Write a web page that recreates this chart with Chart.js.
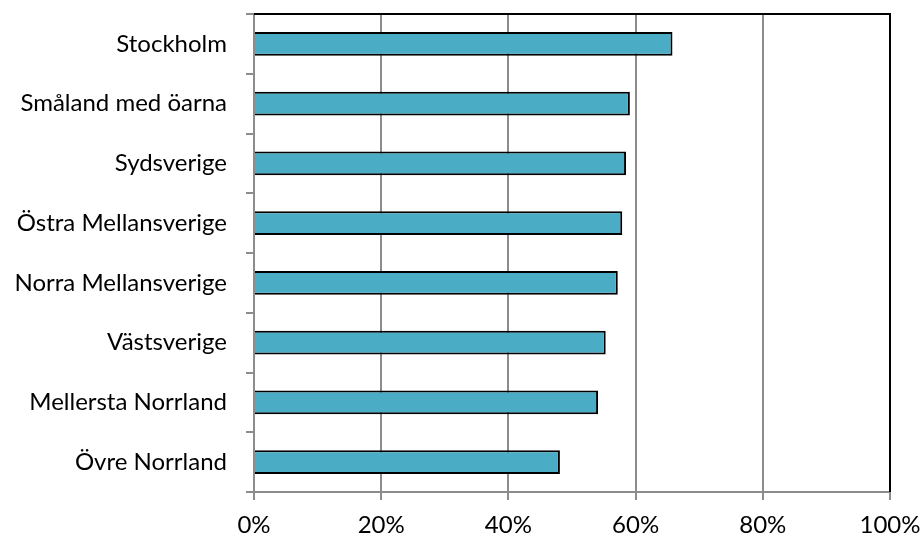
<!DOCTYPE html>
<html>
<head>
<meta charset="utf-8">
<script src="https://cdn.jsdelivr.net/npm/chart.js@4"></script>
<style>
  html, body { margin: 0; padding: 0; background: #fff; }
  #wrap { width: 922px; height: 538px; }
</style>
</head>
<body>
<div id="wrap"><canvas id="regionChart" width="922" height="538"></canvas></div>
<script>
// Data
const regions = [
  "Stockholm",
  "Småland med öarna",
  "Sydsverige",
  "Östra Mellansverige",
  "Norra Mellansverige",
  "Västsverige",
  "Mellersta Norrland",
  "Övre Norrland",
];
const shares = [65.8, 59.1, 58.5, 57.9, 57.2, 55.3, 54.1, 48.1];
const xTicks = [0, 20, 40, 60, 80, 100];

const gridGray = "#8c8c8c";

// black frame on top and right of the plot area
const frame = {
  id: "frame",
  afterDraw(chart) {
    const { ctx, chartArea: a } = chart;
    ctx.save();
    ctx.strokeStyle = "#000";
    ctx.lineWidth = 2;
    ctx.beginPath();
    ctx.moveTo(a.left, a.top);
    ctx.lineTo(a.right, a.top);
    ctx.lineTo(a.right, a.bottom);
    ctx.stroke();
    ctx.restore();
  },
};

const ctx = document.getElementById("regionChart").getContext("2d");
const regionChart = new Chart(ctx, {
  type: "bar",
  data: {
    labels: regions,
    datasets: [
      {
        data: shares,
        backgroundColor: "#4bacc6",
        borderColor: "#000",
        borderWidth: 2,
        categoryPercentage: 1,
        barPercentage: 0.4,
      },
    ],
  },
  options: {
    indexAxis: "y",
    responsive: false,
    animation: false,
    layout: { padding: { top: 14, right: 32, left: 0, bottom: 0 } },
    plugins: {
      legend: { display: false },
      tooltip: { enabled: false },
    },
    scales: {
      x: {
        min: 0,
        max: 100,
        afterBuildTicks(scale) {
          scale.ticks = xTicks.map((v) => ({ value: v }));
        },
        afterFit(scale) {
          scale.height = 46;
          scale.paddingLeft = 0;
          scale.paddingRight = 0;
        },
        grid: { color: gridGray, lineWidth: 2, tickLength: 8 },
        border: { color: gridGray, width: 2 },
        ticks: {
          color: "#000",
          padding: 11,
          font: { family: "Lato", size: 24 },
          callback: (v) => v + "%",
        },
      },
      y: {
        afterFit(scale) {
          scale.width = 254;
          scale.paddingTop = 0;
          scale.paddingBottom = 0;
        },
        grid: {
          offset: true,
          drawOnChartArea: false,
          color: gridGray,
          lineWidth: 2,
          tickLength: 8,
        },
        border: { color: gridGray, width: 2 },
        ticks: {
          color: "#000",
          padding: 19,
          font: { family: "Lato", size: 24 },
        },
      },
    },
  },
  plugins: [frame],
});
</script>
</body>
</html>
